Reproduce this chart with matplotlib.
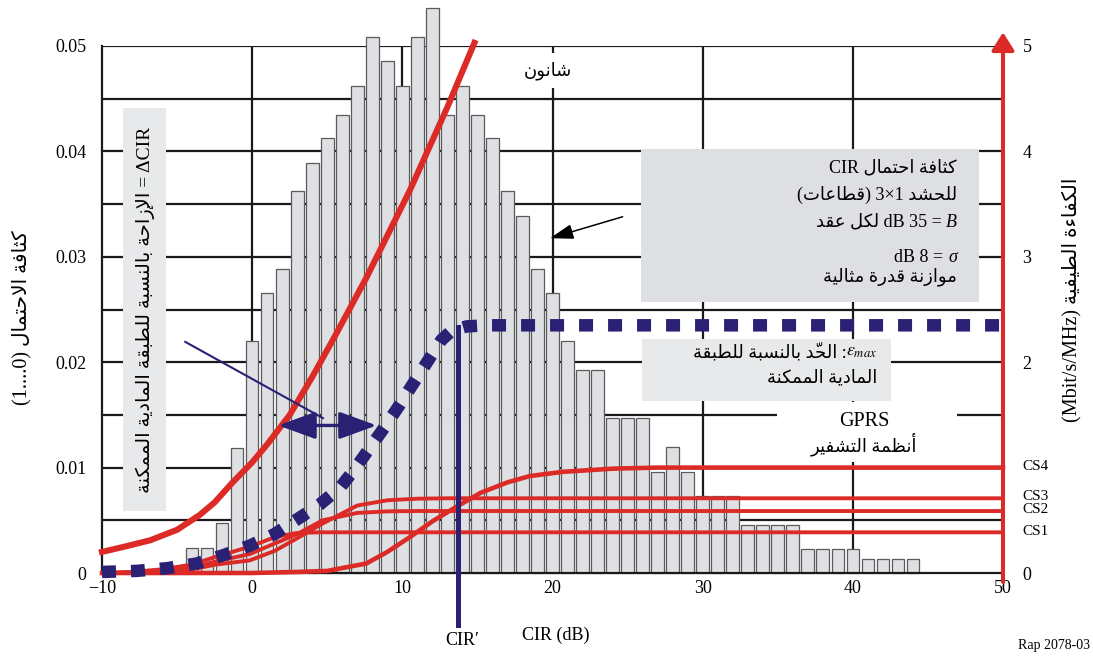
import numpy as np
import matplotlib.pyplot as plt
from matplotlib.patches import Rectangle

# Arabic letters -> presentation forms, returned in visual (left to right) order
QUAD = dict(zip('ئبتثجحخسشصضطظعغفقكلمنهي',
                [0xFE89, 0xFE8F, 0xFE95, 0xFE99, 0xFE9D, 0xFEA1, 0xFEA5, 0xFEB1,
                 0xFEB5, 0xFEB9, 0xFEBD, 0xFEC1, 0xFEC5, 0xFEC9, 0xFECD, 0xFED1,
                 0xFED5, 0xFED9, 0xFEDD, 0xFEE1, 0xFEE5, 0xFEE9, 0xFEF1]))
PAIR = dict(zip('آأؤإاةدذرزوى',
                [0xFE81, 0xFE83, 0xFE85, 0xFE87, 0xFE8D, 0xFE93, 0xFEA9, 0xFEAB,
                 0xFEAD, 0xFEAF, 0xFEED, 0xFEEF]))
LAM_ALEF = {'آ': 0xFEF5, 'أ': 0xFEF7, 'إ': 0xFEF9, 'ا': 0xFEFB}
MARKS = '\u064b\u064c\u064d\u064e\u064f\u0650\u0651\u0652'


def ar(text):
    cl = []
    for c in text:
        if c in MARKS and cl:
            cl[-1][1] += c
        else:
            cl.append([c, ''])
    out = []
    i = 0
    while i < len(cl):
        c, m = cl[i]
        prev_j = int(i > 0 and cl[i - 1][0] in QUAD)
        nxt = cl[i + 1][0] if i + 1 < len(cl) else ''
        if c == 'ل' and nxt in LAM_ALEF:
            out.append(chr(LAM_ALEF[nxt] + prev_j) + m + cl[i + 1][1])
            i += 2
            continue
        next_j = int(c in QUAD and (nxt in QUAD or nxt in PAIR))
        if c in QUAD:
            g = chr(QUAD[c] + prev_j + 2 * next_j)
        elif c in PAIR:
            g = chr(PAIR[c] + prev_j)
        elif c == 'ء':
            g = '\ufe80'
        else:
            g = c
        out.append(g + m)
        i += 1
    return ''.join(reversed(out)).translate(str.maketrans('()', ')('))


plt.rcParams['font.family'] = ['Liberation Serif', 'DejaVu Sans']
plt.rcParams['mathtext.fontset'] = 'stix'

RED = '#dc2b26'
NAVY = '#2a2175'

# CIR histogram, 1 dB bins
cir_bins = list(range(-4, 45))
cir_pdf = [0.0024, 0.0024, 0.0047, 0.0119, 0.0220, 0.0266, 0.0288, 0.0362, 0.0389, 0.0413,
           0.0435, 0.0462, 0.0509, 0.0486, 0.0462, 0.0509, 0.0536, 0.0435, 0.0462, 0.0435,
           0.0413, 0.0362, 0.0339, 0.0288, 0.0266, 0.0220, 0.0193, 0.0193, 0.0147, 0.0147,
           0.0147, 0.0096, 0.0120, 0.0096, 0.0073, 0.0073, 0.0073, 0.0046, 0.0046, 0.0046,
           0.0046, 0.0023, 0.0023, 0.0023, 0.0023, 0.0013, 0.0013, 0.0013, 0.0013]

# Shannon bound (Mbit/s/MHz)
shannon_cir = [-10, -8.5, -6.8, -5.0, -3.5, -2.5, -1.3, 0.0, 1.0, 2.5, 4.0, 5.6, 7.6,
               10.5, 13.0, 14.8]
shannon_eff = [0.20, 0.25, 0.31, 0.41, 0.55, 0.67, 0.86, 1.05, 1.22, 1.50, 1.86, 2.27,
               2.80, 3.63, 4.42, 5.03]

# best possible physical layer (eps_max)
eps_cir = [-10, -7.7, -5.7, -3.7, -1.9, -0.15, 1.5, 3.0, 4.5, 5.85, 6.85, 7.85, 8.8,
           9.75, 10.6, 11.6, 12.6, 13.3, 14.3, 15.6, 50]
eps_eff = [0.01, 0.02, 0.045, 0.09, 0.17, 0.26, 0.37, 0.51, 0.65, 0.81, 0.99, 1.19, 1.38,
           1.58, 1.77, 1.99, 2.21, 2.30, 2.34, 2.35, 2.35]

# GPRS coding schemes
cs1_cir = [-10, -8, -6, -4, -2.4, -0.15, 1.5, 3.0, 4.5, 50]
cs1_eff = [0.0, 0.01, 0.035, 0.08, 0.155, 0.25, 0.34, 0.38, 0.386, 0.386]
cs2_cir = [-10, -8, -6, -4, -2.4, -0.15, 1.5, 3.0, 4.7, 7.0, 9.0, 11.0, 50]
cs2_eff = [0.0, 0.005, 0.025, 0.05, 0.11, 0.18, 0.28, 0.37, 0.50, 0.57, 0.585, 0.588, 0.588]
cs3_cir = [-10, -8, -6, -4, -2.4, -0.15, 1.5, 3.0, 4.7, 7.0, 9.0, 11.0, 13.0, 50]
cs3_eff = [0.0, 0.003, 0.015, 0.035, 0.08, 0.12, 0.21, 0.33, 0.47, 0.64, 0.69, 0.705, 0.709, 0.709]
cs4_cir = [-10, 0, 3, 5, 7.6, 9, 10.5, 12, 13.5, 15.2, 17, 18.5, 20.7, 24, 27, 50]
cs4_eff = [0.0, 0.0, 0.01, 0.02, 0.09, 0.2, 0.34, 0.49, 0.62, 0.76, 0.86, 0.92, 0.96, 0.99, 1.0, 1.0]
cs_names = ['CS1', 'CS2', 'CS3', 'CS4']
cs_label_eff = [0.389, 0.598, 0.73, 1.006]

cir_prime = 13.7
delta_cir = [1.74, 8.29]   # Shannon -> eps_max at the same efficiency
delta_eff = 1.40

x_ticks = [-10, 0, 10, 20, 30, 40, 50]
y_ticks = [0, 0.01, 0.02, 0.03, 0.04, 0.05]
y_ticklabels = ['0', '0.01', '0.02', '0.03', '0.04', '0.05']
y2_ticks = [0, 2, 3, 4, 5]
x_grid = [0, 10, 20, 30, 40]
y_grid = [0.005, 0.01, 0.015, 0.02, 0.025, 0.03, 0.035, 0.04, 0.045, 0.05]

fig = plt.figure(figsize=(10.93, 6.59), dpi=100)
ax = fig.add_axes([102 / 1093, 86 / 659, 901 / 1093, 527 / 659])
ax.set_xlim(-10, 50)
ax.set_ylim(0, 0.05)

for gx in x_grid:
    ax.axvline(gx, color='#1a1a1a', lw=1.6, zorder=0.5)
for gy in y_grid:
    ax.axhline(gy, color='#1a1a1a', lw=1.6, zorder=0.5)

ax.bar(cir_bins, cir_pdf, width=0.84, color='#dfe0e4', edgecolor='#5a5a5a',
       linewidth=0.9, zorder=2, clip_on=False)

ax.set_xticks(x_ticks)
ax.set_yticks(y_ticks)
ax.set_yticklabels(y_ticklabels)
ax.tick_params(length=0, labelsize=13)
ax.tick_params(axis='y', pad=11)
ax.tick_params(axis='x', pad=5)
for s in ['top', 'right']:
    ax.spines[s].set_visible(False)
for s in ['left', 'bottom']:
    ax.spines[s].set_linewidth(1.6)
    ax.spines[s].set_color('#1a1a1a')

# right axis: spectral efficiency
ax2 = ax.twinx()
ax2.set_ylim(0, 5)
ax2.set_yticks(y2_ticks)
ax2.tick_params(length=0, labelsize=13, pad=14)
for s in ax2.spines.values():
    s.set_visible(False)

ax2.annotate('', xy=(50, 5.13), xytext=(50, -0.085), annotation_clip=False,
             arrowprops=dict(arrowstyle='-|>,head_length=0.54,head_width=0.34',
                             mutation_scale=20, color=RED, lw=2.9,
                             shrinkA=0, shrinkB=0))

ax2.plot(cs4_cir, cs4_eff, color=RED, lw=3.3, clip_on=False, zorder=3)
ax2.plot(cs3_cir, cs3_eff, color=RED, lw=2.8, clip_on=False, zorder=3)
ax2.plot(cs2_cir, cs2_eff, color=RED, lw=2.8, clip_on=False, zorder=3)
ax2.plot(cs1_cir, cs1_eff, color=RED, lw=2.8, clip_on=False, zorder=3)
ax2.plot(shannon_cir, shannon_eff, color=RED, lw=4.4, clip_on=False, zorder=3)

ax2.plot(eps_cir, eps_eff, color=NAVY, lw=9, dashes=(1.12, 1.2),
         dash_capstyle='butt', clip_on=False, zorder=4)
ax2.plot([cir_prime, cir_prime], [-0.49, eps_eff[-1] - 0.02], color=NAVY, lw=3.6,
         clip_on=False, zorder=4)

ax2.annotate('', xy=(delta_cir[0], delta_eff), xytext=(delta_cir[1], delta_eff),
             arrowprops=dict(arrowstyle='<|-|>,head_length=1.15,head_width=0.42',
                             mutation_scale=20, color=NAVY, lw=2.4,
                             shrinkA=0, shrinkB=0), zorder=5)
ax2.annotate('', xy=(4.73, 1.468), xytext=(-4.47, 2.194),
             arrowprops=dict(arrowstyle='-', color=NAVY, lw=1.5,
                             shrinkA=0, shrinkB=0), zorder=5)

for name, ye in zip(cs_names, cs_label_eff):
    ax2.text(51.26, ye, name, fontsize=11, ha='left', va='center')

# boxes and annotations
ax2.add_patch(Rectangle((25.89, 2.571), 22.51, 1.452, fc='#dedfe3', ec='none', zorder=5))
ax2.add_patch(Rectangle((25.96, 1.632), 16.58, 0.588, fc='#e8e9eb', ec='none', zorder=5))
ax2.add_patch(Rectangle((34.95, 1.053), 11.98, 0.569, fc='white', ec='none', zorder=5))
ax2.add_patch(Rectangle((-8.60, 0.588), 2.86, 3.824, fc='#e8e9eb', ec='none', zorder=5))

tx = 46.93
fs = 13
ax2.text(tx, 3.843, 'CIR ' + ar('كثافة احتمال'), fontsize=fs, ha='right', va='center', zorder=6)
ax2.text(tx, 3.586, ar('(قطاعات)') + ' 3×1 ' + ar('للحشد'), fontsize=fs, ha='right',
         va='center', zorder=6)
ax2.text(tx, 3.330, 'B', fontsize=fs, style='italic', ha='right', va='center', zorder=6)
ax2.annotate(ar('لكل عقد') + ' dB 35 =', xy=(tx, 3.330), xytext=(-11, 0),
             textcoords='offset points', fontsize=fs, ha='right', va='center', zorder=6)
ax2.text(tx, 2.998, 'σ', fontsize=fs, style='italic', ha='right', va='center', zorder=6)
ax2.annotate('dB 8 =', xy=(tx, 2.998), xytext=(-10, 0), textcoords='offset points',
             fontsize=fs, ha='right', va='center', zorder=6)
ax2.text(tx, 2.808, ar('موازنة قدرة مثالية'), fontsize=fs, ha='right', va='center', zorder=6)

ax2.annotate('', xy=(19.83, 3.176), xytext=(24.67, 3.38),
             arrowprops=dict(arrowstyle='-|>,head_length=0.72,head_width=0.23',
                             mutation_scale=20, color='black', lw=1.1,
                             shrinkA=0, shrinkB=0), zorder=6)

ex = 41.61
ax2.text(ex, 2.097, r'$\varepsilon_{max}$', fontsize=fs, ha='right', va='center', zorder=6)
ax2.annotate(ar('الحدّ بالنسبة للطبقة') + ' :', xy=(ex, 2.097), xytext=(-22, 0),
             textcoords='offset points', fontsize=fs, ha='right', va='center', zorder=6)
ax2.text(ex, 1.850, ar('المادية الممكنة'), fontsize=fs, ha='right', va='center', zorder=6)

ax2.text(40.74, 1.433, 'GPRS', fontsize=14.5, ha='center', va='center', zorder=6)
ax2.text(40.74, 1.224, ar('أنظمة التشفير'), fontsize=fs, ha='center', va='center', zorder=6)

ax2.text(19.7, 4.77, ar('شانون'), fontsize=fs, ha='center', va='center', zorder=6,
         bbox=dict(boxstyle='square,pad=0.45', fc='white', ec='none'))

ax2.text(-7.14, 2.50, ar('الإزاحة بالنسبة للطبقة المادية الممكنة') + ' = ΔCIR',
         rotation=90, fontsize=14, ha='center', va='center', zorder=6)

ax2.text(cir_prime + 0.27, -0.636, 'CIR′', fontsize=fs, ha='center', va='center')
ax2.text(20.2, -0.59, 'CIR (dB)', fontsize=fs, ha='center', va='center')

fig.text(22 / 1093, 1 - 318 / 659, '(1....0) ' + ar('كثافة الاحتمال'), rotation=90,
         fontsize=14.5, ha='center', va='center')
fig.text(1072 / 1093, 1 - 300 / 659, '(Mbit/s/MHz) ' + ar('الكفاءة الطيفية'),
         rotation=90, fontsize=14.5, ha='center', va='center')
fig.text(1090 / 1093, 1 - 645 / 659, 'Rap 2078-03', fontsize=10, ha='right', va='center')

fig.savefig('out.png', dpi=100)
